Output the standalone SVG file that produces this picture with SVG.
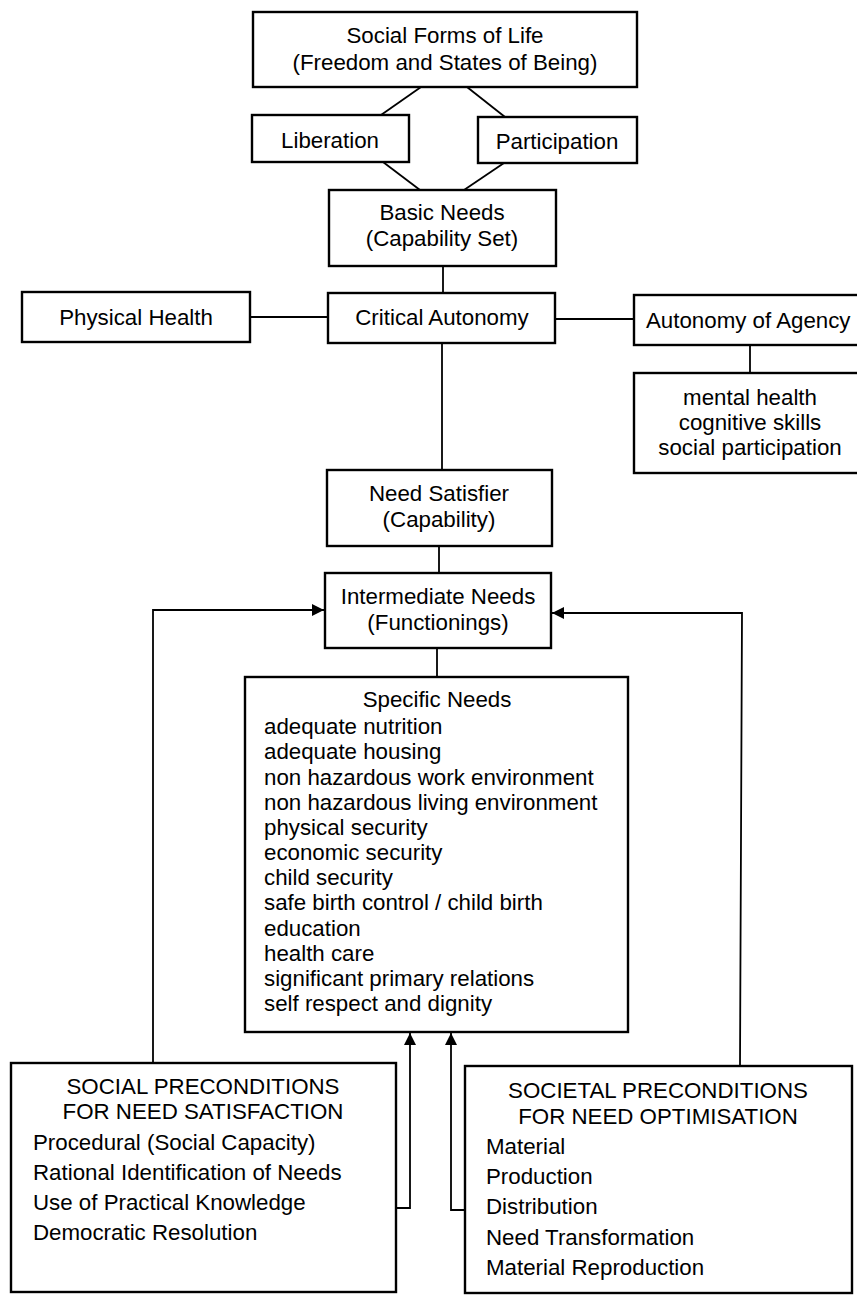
<svg xmlns="http://www.w3.org/2000/svg" width="857" height="1296" viewBox="0 0 857 1296">
<style>
.box{fill:#fff;stroke:#000;stroke-width:2.4}
.ln{fill:none;stroke:#000;stroke-width:1.8}
text{font-family:"Liberation Sans",Arial,sans-serif;font-size:22.3px;fill:#000}
.c{text-anchor:middle}
</style>
<defs>
<marker id="ah" viewBox="0 0 10 10" refX="10" refY="5" markerWidth="12" markerHeight="12" markerUnits="userSpaceOnUse" orient="auto">
<path d="M0,0 L10,5 L0,10 Z" fill="#000"/>
</marker>
</defs>
<rect width="857" height="1296" fill="#fff"/>
<g id="connectors">
<line class="ln" x1="421" y1="87" x2="381" y2="115"/>
<line class="ln" x1="467" y1="87" x2="505" y2="117"/>
<line class="ln" x1="383" y1="162" x2="420" y2="190"/>
<line class="ln" x1="504" y1="163" x2="464" y2="190"/>
<line class="ln" x1="443" y1="266" x2="443" y2="293"/>
<line class="ln" x1="250" y1="317" x2="328" y2="317"/>
<line class="ln" x1="555" y1="319" x2="634" y2="319"/>
<line class="ln" x1="750" y1="345" x2="750" y2="373"/>
<line class="ln" x1="442" y1="343" x2="442" y2="470"/>
<line class="ln" x1="439" y1="546" x2="439" y2="573"/>
<line class="ln" x1="437" y1="648" x2="437" y2="677"/>
<polyline class="ln" points="153,1063 153,610 324,610" marker-end="url(#ah)"/>
<polyline class="ln" points="740,1066 742,613 552,613" marker-end="url(#ah)"/>
<polyline class="ln" points="396,1208 410,1208 410,1033" marker-end="url(#ah)"/>
<polyline class="ln" points="465,1210 451,1210 451,1033" marker-end="url(#ah)"/>
</g>
<g id="social-forms">
<rect class="box" x="253" y="12" width="384" height="75"/>
<text class="c" x="445" y="43">Social Forms of Life</text>
<text class="c" x="445" y="70">(Freedom and States of Being)</text>
</g>
<g id="liberation">
<rect class="box" x="252" y="115" width="157" height="47"/>
<text class="c" x="330" y="148">Liberation</text>
</g>
<g id="participation">
<rect class="box" x="478" y="117" width="159" height="46"/>
<text class="c" x="557" y="149">Participation</text>
</g>
<g id="basic-needs">
<rect class="box" x="329" y="190" width="227" height="76"/>
<text class="c" x="442" y="220">Basic Needs</text>
<text class="c" x="442" y="246">(Capability Set)</text>
</g>
<g id="physical-health">
<rect class="box" x="22" y="292" width="228" height="50"/>
<text class="c" x="136" y="325">Physical Health</text>
</g>
<g id="critical-autonomy">
<rect class="box" x="328" y="293" width="227" height="50"/>
<text class="c" x="442" y="325">Critical Autonomy</text>
</g>
<g id="autonomy-of-agency">
<rect class="box" x="634" y="295" width="240" height="50"/>
<text x="646" y="328">Autonomy of Agency</text>
</g>
<g id="agency-components">
<rect class="box" x="634" y="373" width="240" height="100"/>
<text class="c" x="750" y="405">mental health</text>
<text class="c" x="750" y="430">cognitive skills</text>
<text class="c" x="750" y="455">social participation</text>
</g>
<g id="need-satisfier">
<rect class="box" x="327" y="470" width="225" height="76"/>
<text class="c" x="439" y="501">Need Satisfier</text>
<text class="c" x="439" y="527">(Capability)</text>
</g>
<g id="intermediate-needs">
<rect class="box" x="325" y="573" width="226" height="75"/>
<text class="c" x="438" y="604">Intermediate Needs</text>
<text class="c" x="438" y="630">(Functionings)</text>
</g>
<g id="specific-needs">
<rect class="box" x="245" y="677" width="383" height="355"/>
<text class="c" x="437" y="707">Specific Needs</text>
<text x="264" y="734">adequate nutrition</text>
<text x="264" y="759">adequate housing</text>
<text x="264" y="784.5">non hazardous work environment</text>
<text x="264" y="810">non hazardous living environment</text>
<text x="264" y="835">physical security</text>
<text x="264" y="860">economic security</text>
<text x="264" y="885">child security</text>
<text x="264" y="910">safe birth control / child birth</text>
<text x="264" y="935.5">education</text>
<text x="264" y="961">health care</text>
<text x="264" y="986">significant primary relations</text>
<text x="264" y="1011">self respect and dignity</text>
</g>
<g id="social-preconditions">
<rect class="box" x="11" y="1063" width="385" height="229"/>
<text class="c" x="203" y="1094">SOCIAL PRECONDITIONS</text>
<text class="c" x="203" y="1119">FOR NEED SATISFACTION</text>
<text x="33" y="1150">Procedural (Social Capacity)</text>
<text x="33" y="1180">Rational Identification of Needs</text>
<text x="33" y="1210">Use of Practical Knowledge</text>
<text x="33" y="1240">Democratic Resolution</text>
</g>
<g id="societal-preconditions">
<rect class="box" x="465" y="1066" width="387" height="227"/>
<text class="c" x="658" y="1098">SOCIETAL PRECONDITIONS</text>
<text class="c" x="658" y="1124">FOR NEED OPTIMISATION</text>
<text x="486" y="1154">Material</text>
<text x="486" y="1184">Production</text>
<text x="486" y="1214">Distribution</text>
<text x="486" y="1245">Need Transformation</text>
<text x="486" y="1275">Material Reproduction</text>
</g>
</svg>
